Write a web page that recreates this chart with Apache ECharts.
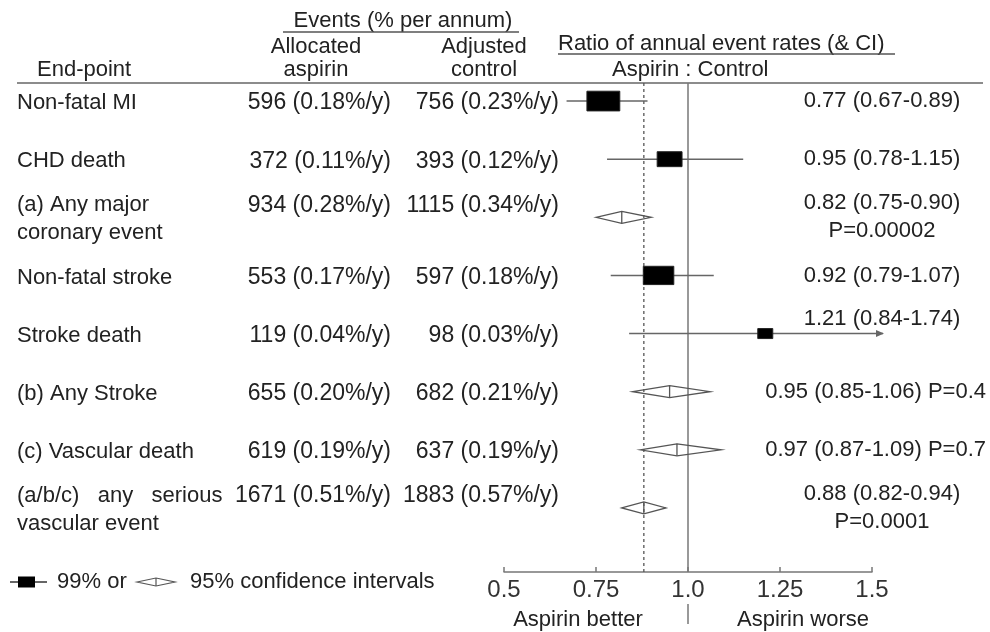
<!DOCTYPE html>
<html><head><meta charset="utf-8">
<script src="https://cdn.jsdelivr.net/npm/echarts@6/dist/echarts.min.js"></script>
<style>html,body{margin:0;padding:0;background:#fff}#c{width:990px;height:632px}</style>
</head><body><div id="c"></div>
<script>
// ---------- data ----------
const endpoints = ['Non-fatal MI', 'CHD death', '(a) Any major\ncoronary event', 'Non-fatal stroke',
  'Stroke death', '(b) Any Stroke', '(c) Vascular death', '(a/b/c)   any   serious\nvascular event'];
const aspEvents = [596, 372, 934, 553, 119, 655, 619, 1671];
const aspRates  = [0.18, 0.11, 0.28, 0.17, 0.04, 0.20, 0.19, 0.51];
const ctlEvents = [756, 393, 1115, 597, 98, 682, 637, 1883];
const ctlRates  = [0.23, 0.12, 0.34, 0.18, 0.03, 0.21, 0.19, 0.57];
const ratio  = [0.77, 0.95, 0.82, 0.92, 1.21, 0.95, 0.97, 0.88];
const ciLow  = [0.67, 0.78, 0.75, 0.79, 0.84, 0.85, 0.87, 0.82];
const ciHigh = [0.89, 1.15, 0.90, 1.07, 1.74, 1.06, 1.09, 0.94];
const pValues = [null, null, '0.00002', null, null, '0.4', '0.7', '0.0001'];
const markType = ['box', 'box', 'diamond', 'box', 'box', 'diamond', 'diamond', 'diamond'];
const tickValues = [0.5, 0.75, 1.0, 1.25, 1.5];
const tickLabels = ['0.5', '0.75', '1.0', '1.25', '1.5'];
const NULL_RATIO = 1.0;
const OVERALL = ratio[ratio.length - 1];

// ---------- layout / style ----------
const FONT = '"Liberation Sans", Arial, sans-serif';
const TXT = '#222', LINE = '#666';
const HEADER_Y = 83, AXIS_Y = 572;
const X_MIN = 0.5, X_MAX = 1.5;

function txt(x, y, s, align, size, lh) {
  return { type: 'text', silent: true, style: {
    x: x, y: y, text: s, fill: TXT, font: size + 'px ' + FONT,
    fontSize: size, fontFamily: FONT,
    textAlign: align, align: align, textVerticalAlign: 'middle', verticalAlign: 'middle',
    lineHeight: lh || Math.round(size * 1.3) } };
}

function renderRow(params, api) {
  const i = params.dataIndex;
  const pEst = api.coord([ratio[i], i]);
  const yc = pEst[1];
  const pLo = api.coord([ciLow[i], i]);
  const clipped = ciHigh[i] > X_MAX;
  const pHi = api.coord([Math.min(ciHigh[i], X_MAX), i]);
  const twoLine = endpoints[i].indexOf('\n') >= 0;
  const ch = [];
  ch.push(txt(17, yc + 2, endpoints[i], 'left', 22, 28));
  const evY = twoLine ? yc - 12 : yc + 2;
  ch.push(txt(391, evY, aspEvents[i] + ' (' + aspRates[i].toFixed(2) + '%/y)', 'right', 23));
  ch.push(txt(559, evY, ctlEvents[i] + ' (' + ctlRates[i].toFixed(2) + '%/y)', 'right', 23));
  let rt = ratio[i].toFixed(2) + ' (' + ciLow[i].toFixed(2) + '-' + ciHigh[i].toFixed(2) + ')';
  if (pValues[i]) rt += (twoLine ? '\n' : ' ') + 'P=' + pValues[i];
  if (pValues[i] && !twoLine) ch.push(txt(986, yc, rt, 'right', 22, 28));
  else ch.push(txt(882, clipped ? yc - 15 : yc, rt, 'center', 22, 28));

  if (markType[i] === 'box') {
    const xEnd = clipped ? pHi[0] + 11 : pHi[0];
    ch.push({ type: 'line', shape: { x1: pLo[0], y1: yc, x2: xEnd, y2: yc },
      style: { stroke: LINE, lineWidth: 1.5 } });
    if (clipped) ch.push({ type: 'polygon',
      shape: { points: [[xEnd + 1, yc], [xEnd - 7, yc - 3.5], [xEnd - 7, yc + 3.5]] },
      style: { fill: LINE } });
    const w = 1 / (1 / aspEvents[i] + 1 / ctlEvents[i]);
    const bw = Math.max(15, 1.8 * Math.sqrt(w));
    const bh = Math.max(10, bw * 0.6);
    ch.push({ type: 'rect', shape: { x: pEst[0] - bw / 2, y: yc - bh / 2, width: bw, height: bh },
      style: { fill: '#000', stroke: '#222', lineWidth: 1 } });
  } else {
    const hh = 6;
    ch.push({ type: 'polygon',
      shape: { points: [[pLo[0], yc], [pEst[0], yc - hh], [pHi[0], yc], [pEst[0], yc + hh]] },
      style: { fill: 'none', stroke: '#555', lineWidth: 1.3 } });
    ch.push({ type: 'line', shape: { x1: pEst[0], y1: yc - hh, x2: pEst[0], y2: yc + hh },
      style: { stroke: '#555', lineWidth: 1.3 } });
  }
  return { type: 'group', children: ch };
}

function renderRefs(params, api) {
  const x1 = api.coord([NULL_RATIO, 0])[0];
  const xo = api.coord([OVERALL, 0])[0];
  return { type: 'group', children: [
    { type: 'line', shape: { x1: x1, y1: HEADER_Y, x2: x1, y2: AXIS_Y }, style: { stroke: '#777', lineWidth: 1.5 } },
    { type: 'line', shape: { x1: x1, y1: 604, x2: x1, y2: 624 }, style: { stroke: '#777', lineWidth: 1.5 } },
    { type: 'line', shape: { x1: xo, y1: HEADER_Y, x2: xo, y2: AXIS_Y },
      style: { stroke: '#555', lineWidth: 1.3, lineDash: [3, 3] } }
  ] };
}

const chart = echarts.init(document.getElementById('c'), null, { renderer: 'canvas' });
const hdr = (x, y, s, align) => ({ type: 'text', silent: true, style: {
  x: x, y: y, text: s, fill: TXT, font: '22px ' + FONT, fontSize: 22, fontFamily: FONT,
  textAlign: align, align: align, textVerticalAlign: 'middle', verticalAlign: 'middle' } });
const ln = (x1, y1, x2, y2, c, w) => ({ type: 'line', silent: true,
  shape: { x1: x1, y1: y1, x2: x2, y2: y2 }, style: { stroke: c || '#666', lineWidth: w || 1.5 } });

chart.setOption({
  animation: false,
  backgroundColor: '#fff',
  grid: { left: 504, right: 118, top: 72, bottom: 95 },
  xAxis: {
    type: 'value', min: X_MIN, max: X_MAX, interval: 0.25, offset: 35,
    splitLine: { show: false },
    axisLine: { show: true, onZero: false, lineStyle: { color: '#777', width: 1.5 } },
    axisTick: { show: true, inside: true, length: 5, lineStyle: { color: '#777', width: 1.5 } },
    axisLabel: { fontSize: 24, color: '#333', fontFamily: FONT, margin: 6,
      formatter: v => { const k = tickValues.findIndex(t => Math.abs(t - v) < 1e-6); return k >= 0 ? tickLabels[k] : ''; } }
  },
  yAxis: { type: 'category', data: endpoints, inverse: true, show: false },
  series: [
    { type: 'custom', clip: false, z: 1, renderItem: renderRefs, data: [[NULL_RATIO, 0]], encode: { x: 0, y: 1 } },
    { type: 'custom', clip: false, z: 2, renderItem: renderRow,
      data: ratio.map((r, i) => [r, ciLow[i], ciHigh[i], i]), encode: { x: [0, 1, 2], y: 3 } }
  ],
  graphic: [
    hdr(403, 21, 'Events (% per annum)', 'center'),
    ln(283, 32, 519, 32, '#555', 1.3),
    hdr(316, 47, 'Allocated', 'center'),
    hdr(316, 70, 'aspirin', 'center'),
    hdr(484, 47, 'Adjusted', 'center'),
    hdr(484, 70, 'control', 'center'),
    hdr(37, 70, 'End-point', 'left'),
    hdr(558, 44, 'Ratio of annual event rates (& CI)', 'left'),
    ln(558, 54, 895, 54, '#555', 1.3),
    hdr(612, 70, 'Aspirin : Control', 'left'),
    ln(17, HEADER_Y, 983, HEADER_Y, '#666', 1.5),
    // legend
    ln(10, 582, 47, 582, '#333', 1.5),
    { type: 'rect', silent: true, shape: { x: 18, y: 576.5, width: 17, height: 11 }, style: { fill: '#000' } },
    hdr(57, 582, '99% or', 'left'),
    { type: 'polygon', silent: true, shape: { points: [[137, 582], [156, 578], [175, 582], [156, 586]] },
      style: { fill: 'none', stroke: '#555', lineWidth: 1.2 } },
    ln(156, 578, 156, 586, '#555', 1.2),
    hdr(190, 582, '95% confidence intervals', 'left'),
    hdr(578, 620, 'Aspirin better', 'center'),
    hdr(803, 620, 'Aspirin worse', 'center')
  ]
});
</script></body></html>
